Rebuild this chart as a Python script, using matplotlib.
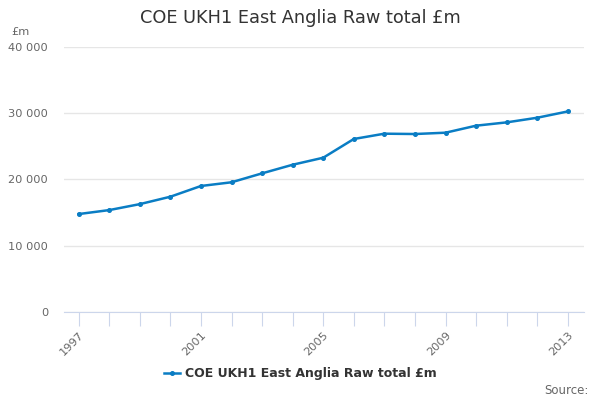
import matplotlib
matplotlib.use('Agg')
import matplotlib.pyplot as plt
from matplotlib.ticker import FuncFormatter, MultipleLocator

years = list(range(1997, 2014))
raw_total = [14750, 15350, 16250, 17370, 18990, 19550, 20900, 22200, 23260,
             26090, 26890, 26840, 27040, 28100, 28600, 29300, 30250]
year_labels = [1997, 2001, 2005, 2009, 2013]
series_name = 'COE UKH1 East Anglia Raw total £m'

line_color = '#0a7dc4'
text_grey = '#666666'
tick_color = '#ccd6eb'


def space_thousands(v, pos):
    return f'{int(v):,}'.replace(',', ' ')


def main():
    fig = plt.figure(figsize=(6, 4), dpi=100)
    ax = fig.add_axes([64 / 600, 1 - 311.7 / 400, 520 / 600, (311.7 - 46.9) / 400])

    ax.plot(years, raw_total, color=line_color, linewidth=1.8, marker='o',
            markersize=2.6, label=series_name)

    ax.set_ylim(0, 40000)
    ax.set_xlim(1996.52, 2013.53)
    ax.yaxis.set_major_locator(MultipleLocator(10000))
    ax.yaxis.set_major_formatter(FuncFormatter(space_thousands))
    ax.grid(axis='y', color='#e6e6e6', linewidth=1)
    ax.set_axisbelow(True)

    ax.set_xticks(years)
    ax.set_xticklabels([str(y) if y in year_labels else '' for y in years],
                       rotation=45, ha='right', rotation_mode='anchor')
    ax.tick_params(axis='x', length=10, color=tick_color, labelcolor=text_grey,
                   labelsize=8.2, pad=3)
    ax.tick_params(axis='y', length=0, labelcolor=text_grey, labelsize=8.2, pad=11.5)

    for side in ['top', 'right', 'left']:
        ax.spines[side].set_visible(False)
    ax.spines['bottom'].set_color(tick_color)

    fig.text(0.5, 1 - 18 / 400, series_name, ha='center', va='center',
             fontsize=12.8, color='#333333')
    fig.text(11 / 600, 1 - 32 / 400, '£m', ha='left', va='center',
             fontsize=8.2, color=text_grey)
    fig.text(589 / 600, 1 - 390 / 400, 'Source:', ha='right', va='center',
             fontsize=8.5, color=text_grey)

    leg = fig.legend(loc='center', bbox_to_anchor=(0.5, 1 - 374 / 400),
                     frameon=False, handlelength=1.3, handletextpad=0.4,
                     prop={'weight': 'bold', 'size': 9})
    for t in leg.get_texts():
        t.set_color('#333333')

    fig.savefig('out.png', dpi=100)


if __name__ == "__main__":
    main()
